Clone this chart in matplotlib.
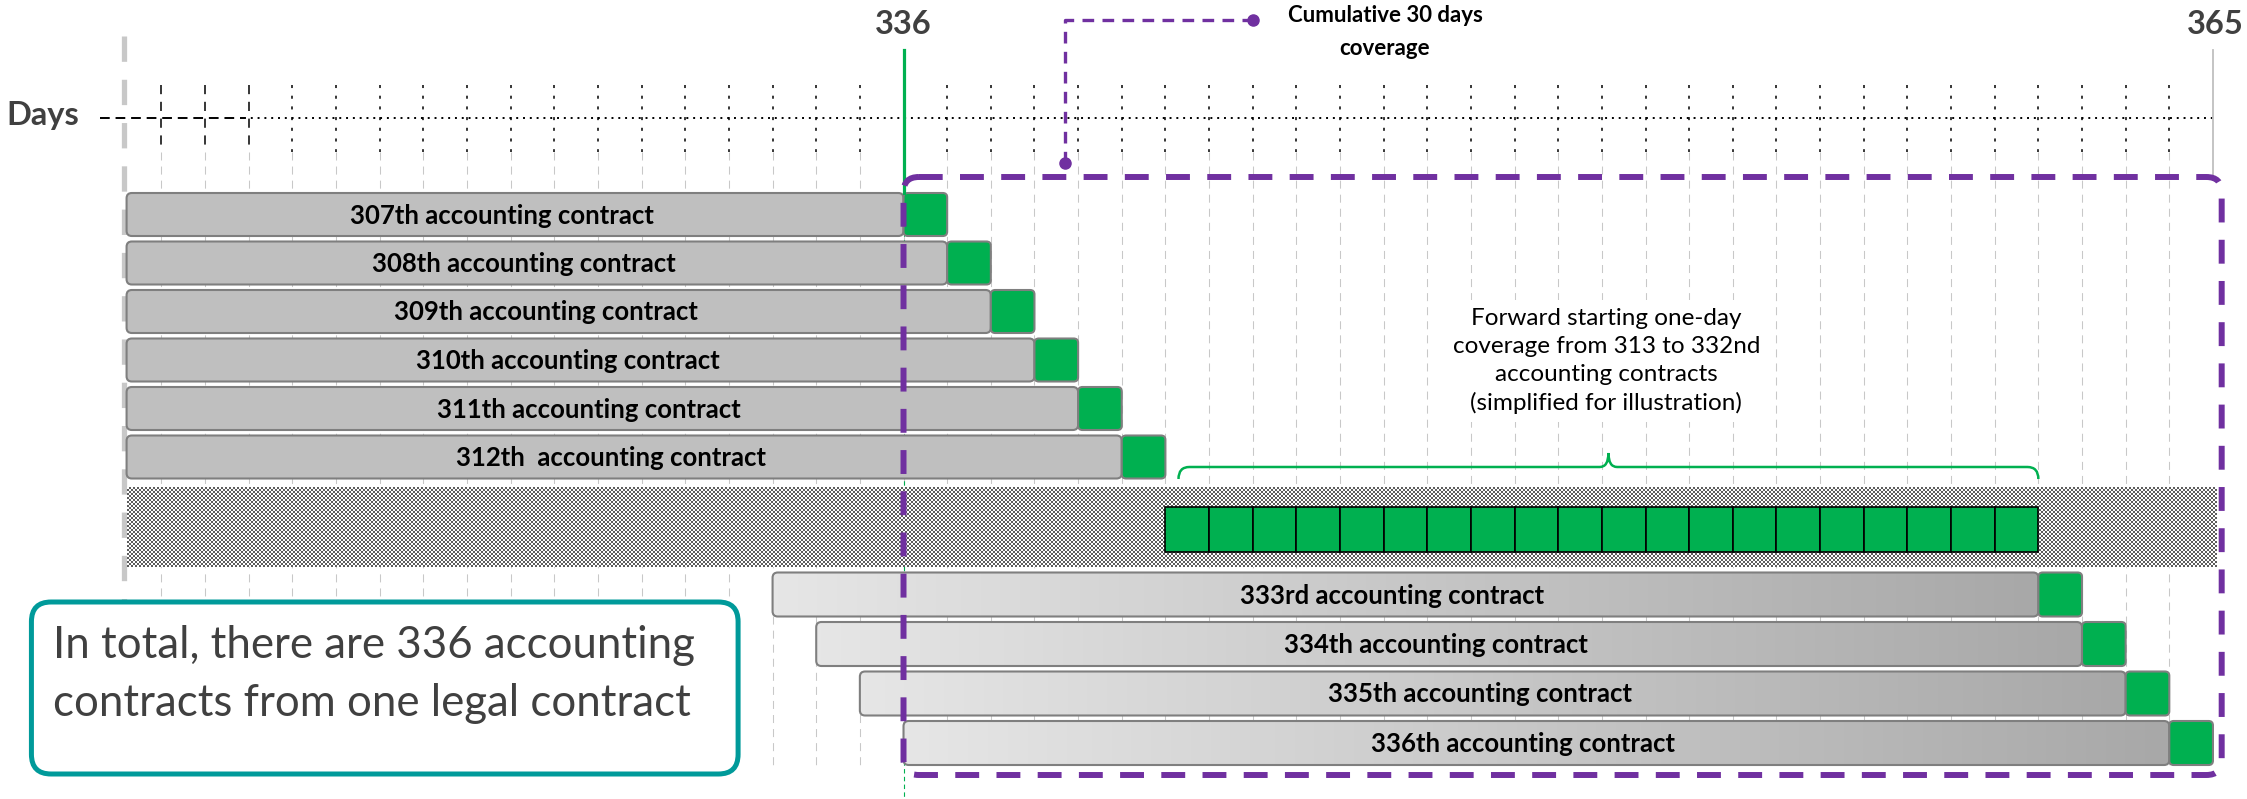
import numpy as np
import matplotlib.pyplot as plt
from matplotlib.patches import FancyBboxPatch, Rectangle, PathPatch
from matplotlib.path import Path
from matplotlib.colors import LinearSegmentedColormap, ListedColormap

# ---- data -------------------------------------------------------------
window_start = 336          # first day of the 30 days window
window_end = 365            # last day of the window
coverage_days = 30          # each accounting contract covers 30 days
view_start = 318.2          # drawing is cut on the left here

top_contracts = [307, 308, 309, 310, 311, 312]
top_labels = ['307th accounting contract', '308th accounting contract',
              '309th accounting contract', '310th accounting contract',
              '311th accounting contract', '312th  accounting contract']
forward_contracts = [313, 314, 315, 316, 317, 318, 319, 320, 321, 322,
                     323, 324, 325, 326, 327, 328, 329, 330, 331, 332]
bottom_contracts = [333, 334, 335, 336]
bottom_labels = ['333rd accounting contract', '334th accounting contract',
                 '335th accounting contract', '336th accounting contract']
grid_days = list(range(319, 366))

# ---- style ------------------------------------------------------------
GREEN = '#00b050'
PURPLE = '#7030a0'
TEAL = '#009a9a'
BAR = '#bfbfbf'
EDGE = '#7f7f7f'
DARK = '#404040'
FONT = 'Lato'
PX = 43.65                  # pixels per day (used for rounded corners)

plt.rcParams['font.family'] = [FONT, 'DejaVu Sans']

fig = plt.figure(figsize=(22.47, 7.99), dpi=100)
ax = fig.add_axes([0, 0, 1, 1])
ax.set_xlim(315.30, 366.78)
ax.set_ylim(799, 0)
ax.axis('off')


def rbox(x, y, w, h, r, **kw):
    p = FancyBboxPatch((x, y), w, h, boxstyle=f'round,pad=0,rounding_size={r}',
                       mutation_aspect=PX, **kw)
    ax.add_patch(p)
    return p


# light dashed day grid
ax.vlines(grid_days, 152, 765, colors='#c8c8c8', lw=0.75,
          linestyles=(0, (7.7, 5.8)), zorder=1)

# days scale at the top
ax.vlines(grid_days[:3], 85, 152, colors='black', lw=1.1,
          linestyles=(0, (6, 5)), zorder=2)
ax.vlines(grid_days[3:], 85, 152, colors='black', lw=1.1,
          linestyles=(0, (2, 5)), zorder=2)
ax.plot([317.6, 320.9], [118, 118], color='black', lw=1.4,
        ls=(0, (5, 3)), zorder=2)
ax.plot([320.9, window_end + 1], [118, 118], color='black', lw=1.4,
        ls=(0, (1, 2.5)), zorder=2)
ax.text(316.28, 116, 'Days', fontsize=23.5, fontweight='bold', color=DARK,
        ha='center', va='center')

# left cut marker
ax.plot([318.15, 318.15], [36, 600], color='#c8c8c8', lw=3.8,
        ls=(0, (4.8, 3.4)), zorder=2, solid_capstyle='butt')

# day markers 336 / 365
ax.plot([window_start, window_start], [50, 193], color=GREEN, lw=2.3, zorder=5)
ax.plot([window_start, window_start], [193, 799], color=GREEN, lw=0.8,
        ls=(0, (4, 3)), zorder=2)
ax.text(window_start, 24, str(window_start), fontsize=23.5, fontweight='bold',
        color=DARK, ha='center', va='center')
ax.plot([window_end + 1, window_end + 1], [50, 180], color='#bfbfbf', lw=1.3, zorder=2)
ax.text(window_end + 1.06, 24, str(window_end), fontsize=23.5, fontweight='bold',
        color=DARK, ha='center', va='center')

# upper contracts: grey bar + green last day
for i, (k, lab) in enumerate(zip(top_contracts, top_labels)):
    yc = 214.5 + 48.5 * i
    last = k + coverage_days - 1
    x0 = max(k, view_start)
    rbox(x0, yc - 21.5, last - x0, 43, 0.12, fc=BAR, ec=EDGE, lw=1.5, zorder=3)
    rbox(last, yc - 21.5, 1, 43, 0.1, fc=GREEN, ec=EDGE, lw=1.5, zorder=4)
    ax.text((x0 + last) / 2 - 0.3, yc + 1, lab, fontsize=18.5, fontweight='bold',
            color='black', ha='center', va='center', zorder=6)

# dotted band with forward starting one-day coverage
# snap the band to whole pixels so the dot texture stays regular
(px0, _), (px1, _) = ax.transData.transform([(view_start, 0), (window_end + 1.1, 0)])
px0, px1 = round(px0), round(px1)
inv = ax.transData.inverted()
band_x0 = inv.transform((px0, 0))[0]
band_x1 = inv.transform((px1, 0))[0]
ny, nx = 40, (px1 - px0) // 2
jj, ii = np.meshgrid(np.arange(nx), np.arange(ny))
ax.imshow((ii + jj) % 2, cmap=ListedColormap(['white', '#5e5e5e']),
          extent=[band_x0, band_x0 + 2 * nx / PX, 567, 487], aspect='auto',
          interpolation='nearest', zorder=2)
for k in forward_contracts:
    d = k + coverage_days - 1
    ax.add_patch(Rectangle((d, 507), 1, 45, fc=GREEN, ec='black', lw=1.2, zorder=4))

# brace over the forward boxes
x1 = forward_contracts[0] + coverage_days - 1 + 0.3
x2 = forward_contracts[-1] + coverage_days
xm = (x1 + x2) / 2
verts = [(x1, 479), (x1, 467), (x1 + 0.25, 467), (xm - 0.2, 467), (xm, 467),
         (xm, 453), (xm, 467), (xm + 0.2, 467), (x2 - 0.25, 467), (x2, 467), (x2, 479)]
codes = [Path.MOVETO, Path.CURVE3, Path.CURVE3, Path.LINETO, Path.CURVE3,
         Path.CURVE3, Path.CURVE3, Path.CURVE3, Path.LINETO, Path.CURVE3, Path.CURVE3]
ax.add_patch(PathPatch(Path(verts, codes), fc='none', ec=GREEN, lw=1.8, zorder=4))

ax.text(xm - 0.05, 361, 'Forward starting one-day\ncoverage from 313 to 332nd\n'
        'accounting contracts\n(simplified for illustration)',
        fontsize=17.5, color='black', ha='center', va='center', linespacing=1.4,
        bbox=dict(fc='white', ec='none', pad=6), zorder=4)

# lower contracts with gradient fill
grad = LinearSegmentedColormap.from_list('g', ['#e6e6e6', '#a8a8a8'])
for i, (k, lab) in enumerate(zip(bottom_contracts, bottom_labels)):
    yc = 594.5 + 49.5 * i
    last = k + coverage_days - 1
    p = rbox(k, yc - 22, last - k, 44, 0.12, fc='none', ec=EDGE, lw=1.5, zorder=3.5)
    im = ax.imshow(np.linspace(0, 1, 256).reshape(1, -1), cmap=grad,
                   extent=[k, last, yc + 22, yc - 22], aspect='auto', zorder=3)
    im.set_clip_path(p)
    rbox(last, yc - 22, 1, 44, 0.1, fc=GREEN, ec=EDGE, lw=1.5, zorder=4)
    ax.text((k + last) / 2 - 0.3, yc + 1, lab, fontsize=18.5, fontweight='bold',
            color='black', ha='center', va='center', zorder=6)

# cumulative 30 days coverage window
rbox(window_start, 177, window_end + 1.2 - window_start, 598, 0.35,
     fc='none', ec=PURPLE, lw=4.3, ls=(0, (4.0, 2.9)), zorder=7)
ax.plot([339.7, 339.7, 344.0], [163, 20, 20], color=PURPLE, lw=2.4,
        ls=(0, (3.5, 2.5)), zorder=7)
ax.plot([339.7, 344.0], [163, 20], 'o', color=PURPLE, ms=8, zorder=7)
ax.text(347.03, 32, 'Cumulative 30 days\ncoverage', fontsize=16,
        fontweight='bold', color='black', ha='center', va='center',
        linespacing=1.65, zorder=7)

# note box
rbox(316.02, 602, 16.19, 172, 0.45, fc='white', ec=TEAL, lw=3.6, zorder=5)
ax.text(316.52, 645, 'In total, there are 336 accounting', fontsize=31.5,
        color=DARK, ha='left', va='center', zorder=6)
ax.text(316.52, 703, 'contracts from one legal contract', fontsize=31.5,
        color=DARK, ha='left', va='center', zorder=6)

plt.savefig('out.png', dpi=100)
